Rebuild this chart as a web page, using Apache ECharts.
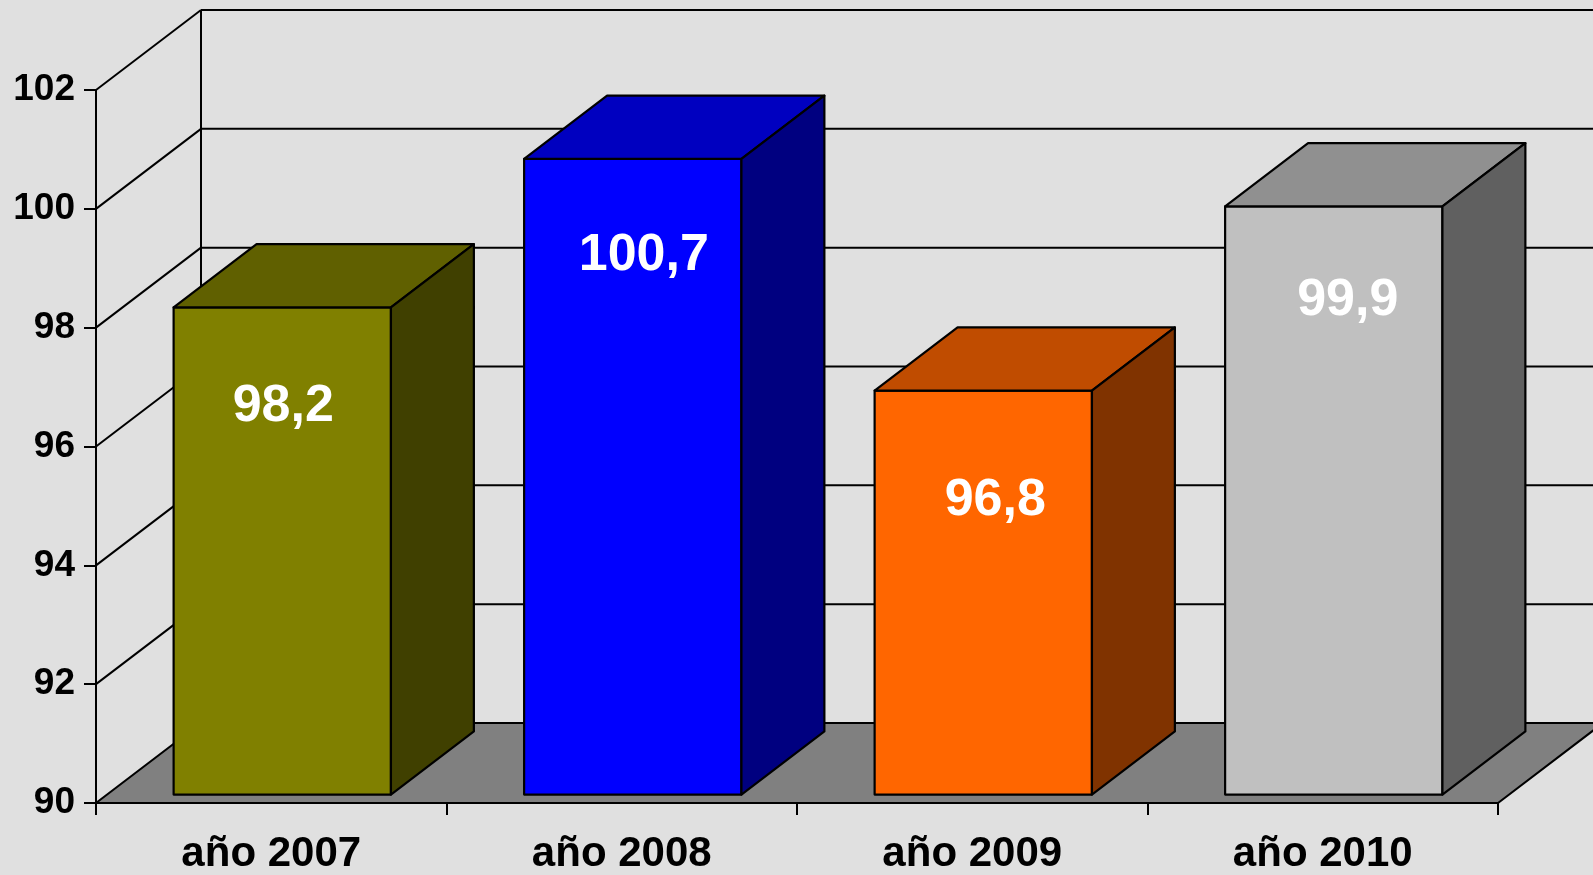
<!DOCTYPE html>
<html>
<head>
<meta charset="utf-8">
<title>año 2007 - 2010</title>
<script src="https://cdn.jsdelivr.net/npm/echarts@6/dist/echarts.min.js"></script>
<style>
  html, body { margin: 0; padding: 0; background: #e0e0e0; }
  #main { width: 1593px; height: 875px; }
</style>
</head>
<body>
<div id="main"></div>
<script>
// datos
var categories = ['año 2007', 'año 2008', 'año 2009', 'año 2010'];
var values = [98.2, 100.7, 96.8, 99.9];
var yTicks = [90, 92, 94, 96, 98, 100, 102];

// colores por barra: frente, tapa, lateral
var frontColors = ['#808000', '#0000ff', '#ff6600', '#c0c0c0'];
var topColors = ['#606000', '#0000c0', '#c04c00', '#909090'];
var sideColors = ['#404000', '#000080', '#803300', '#606060'];
// desplazamiento de cada etiqueta respecto al centro de la tapa frontal (px)
var labelShiftX = [1, 11, 12, 14];
var labelShiftY = [99, 97, 110, 94];

// perspectiva (pixeles) y profundidad de las barras
var DX = 105, DY = -80;
var F0 = 0.105, F1 = 0.895;
var BAR_W = 0.62;
var FONT = "'Liberation Sans', Arial, sans-serif";

var chart = echarts.init(document.getElementById('main'));

function frameItem(params, api) {
    var cs = params.coordSys;
    var left = cs.x, right = cs.x + cs.width, bottom = cs.y + cs.height;
    var W = api.getWidth();
    var line = {stroke: '#000', lineWidth: 2};
    var children = [];
    // suelo
    children.push({
        type: 'polygon',
        shape: {points: [[left, bottom], [right, bottom], [right + DX, bottom + DY], [left + DX, bottom + DY]]},
        style: {fill: '#808080', stroke: '#000', lineWidth: 2}
    });
    // pared lateral / fondo: lineas de division
    yTicks.forEach(function(v) {
        var y = api.coord([0, v])[1];
        if (v !== yTicks[0]) {
            children.push({type: 'line', shape: {x1: left, y1: y, x2: left + DX, y2: y + DY}, style: line});
        }
        children.push({type: 'line', shape: {x1: left + DX, y1: y + DY, x2: W, y2: y + DY}, style: line});
    });
    var yTop = api.coord([0, yTicks[yTicks.length - 1]])[1];
    children.push({type: 'line', shape: {x1: left + DX, y1: bottom + DY, x2: left + DX, y2: yTop + DY}, style: line});
    return {type: 'group', children: children};
}

function barItem(params, api) {
    var idx = api.value(0);
    var val = api.value(1);
    var top = api.coord([idx, val]);
    var base = api.coord([idx, yTicks[0]]);
    var w = api.size([1, 0])[0] * BAR_W;
    var x0 = top[0] - w / 2 + F0 * DX, x1 = x0 + w;
    var yT = top[1] + F0 * DY, yB = base[1] + F0 * DY;
    var ddx = (F1 - F0) * DX, ddy = (F1 - F0) * DY;
    var edge = {stroke: '#000', lineWidth: 2.2, lineJoin: 'round'};
    return {
        type: 'group',
        children: [
            {type: 'polygon', shape: {points: [[x0, yT], [x1, yT], [x1, yB], [x0, yB]]},
             style: Object.assign({fill: frontColors[idx]}, edge)},
            {type: 'polygon', shape: {points: [[x0, yT], [x0 + ddx, yT + ddy], [x1 + ddx, yT + ddy], [x1, yT]]},
             style: Object.assign({fill: topColors[idx]}, edge)},
            {type: 'polygon', shape: {points: [[x1, yT], [x1 + ddx, yT + ddy], [x1 + ddx, yB + ddy], [x1, yB]]},
             style: Object.assign({fill: sideColors[idx]}, edge)},
            {type: 'text', x: x0 + w / 2 + labelShiftX[idx], y: yT + labelShiftY[idx],
             style: {text: String(val).replace('.', ','), fill: '#fff', font: 'bold 52px ' + FONT,
                     align: 'center', verticalAlign: 'middle'}}
        ]
    };
}

chart.setOption({
    backgroundColor: '#e0e0e0',
    animation: false,
    grid: {left: 96, right: 95, top: 90, bottom: 71},
    xAxis: {
        type: 'category',
        data: categories,
        axisLine: {lineStyle: {color: '#000', width: 2}},
        axisTick: {show: true, length: 12, lineStyle: {color: '#000', width: 2}},
        axisLabel: {interval: 0, margin: 30, color: '#000', fontSize: 42, fontWeight: 'bold', fontFamily: FONT},
        splitLine: {show: false}
    },
    yAxis: {
        type: 'value',
        min: 90, max: 102, interval: 2,
        axisLine: {show: true, lineStyle: {color: '#000', width: 2}},
        axisTick: {show: true, length: 12, lineStyle: {color: '#000', width: 2}},
        axisLabel: {margin: 21, color: '#000', fontSize: 37, fontWeight: 'bold', fontFamily: FONT},
        splitLine: {show: false}
    },
    series: [{
        type: 'custom',
        z: 1,
        silent: true,
        data: [[0, yTicks[0]]],
        renderItem: frameItem
    }, {
        type: 'custom',
        z: 3,
        data: values.map(function(v, i) { return [i, v]; }),
        renderItem: barItem
    }]
});
</script>
</body>
</html>
